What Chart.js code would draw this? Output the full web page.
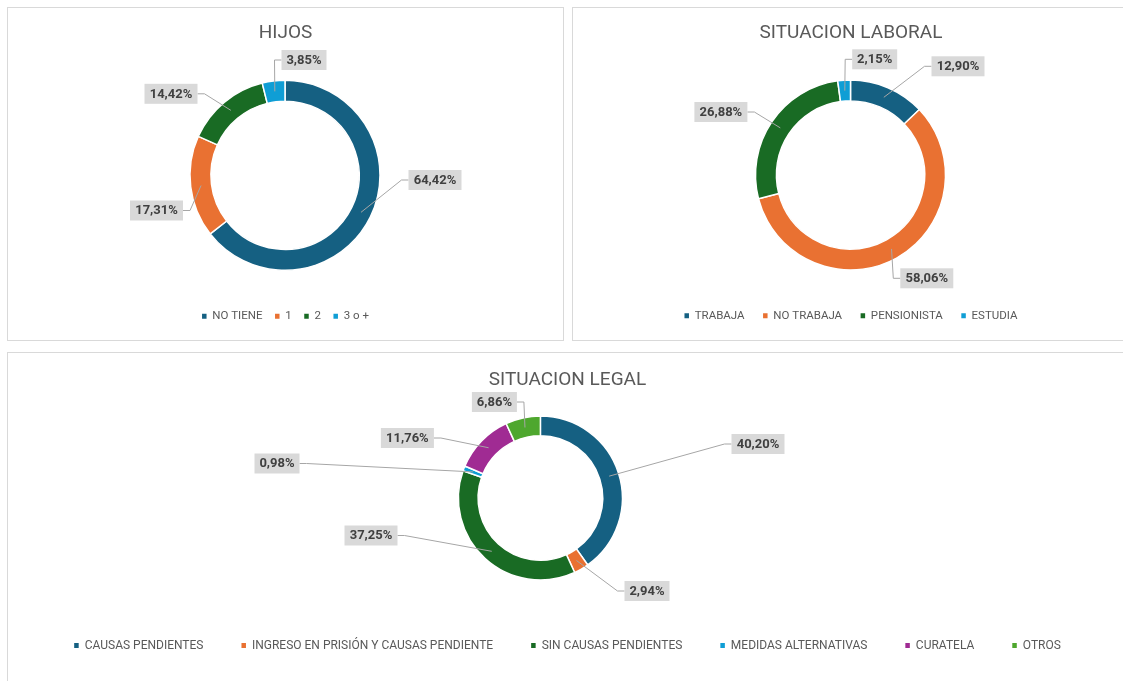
<!DOCTYPE html>
<html><head><meta charset="utf-8">
<script src="https://cdn.jsdelivr.net/npm/chart.js@4"></script>
<style>
html,body{margin:0;padding:0;background:#fff;overflow:hidden;width:1123px;height:681px;}
.panel{position:absolute;border:1px solid #d9d9d9;background:#fff;}
.panel canvas{display:block;}
</style></head><body>
<div class="panel" style="left:7px;top:7px;width:555px;height:332px"><canvas id="c1" width="555" height="332"></canvas></div>
<div class="panel" style="left:572px;top:7px;width:556px;height:332px"><canvas id="c2" width="556" height="332"></canvas></div>
<div class="panel" style="left:7px;top:352px;width:1119px;height:330px"><canvas id="c3" width="1119" height="330"></canvas></div>
<script>
// ---- data ----
const hijosLabels = ['NO TIENE', '1', '2', '3 o +'];
const hijosValues = [64.42, 17.31, 14.42, 3.85];

const laboralLabels = ['TRABAJA', 'NO TRABAJA', 'PENSIONISTA', 'ESTUDIA'];
const laboralValues = [12.90, 58.06, 26.88, 2.15];

const legalLabels = ['CAUSAS PENDIENTES', 'INGRESO EN PRISIÓN Y CAUSAS PENDIENTE', 'SIN CAUSAS PENDIENTES', 'MEDIDAS ALTERNATIVAS', 'CURATELA', 'OTROS'];
const legalValues = [40.20, 2.94, 37.25, 0.98, 11.76, 6.86];

// ---- styles / layout ----
const palette = ['#156082', '#E97132', '#196B24', '#0F9ED5', '#A02B93', '#4EA72E'];
// data-label box offsets from the ring centre (layout only)
const hijosLabelPos = [[150, 4.7], [-128.5, 35.2], [-114, -81.5], [19, -115.3]];
const laboralLabelPos = [[107.5, -108.7], [76.3, 103.3], [-129.6, -63], [24.2, -115.7]];
const legalLabelPos = [[217.6, -54], [106.6, 93], [-169.4, 37.5], [-263.4, -34.5], [-133, -60], [-46, -96]];

const FONT = 'Roboto';

const centerPlugin = {
  id: 'plotCenter',
  afterLayout(chart, args, opts) {
    if (!opts || opts.x == null) return;
    const R = opts.r, a = chart.chartArea;
    a.left = opts.x - R; a.right = opts.x + R;
    a.top = opts.y - R; a.bottom = opts.y + R;
    a.width = 2 * R; a.height = 2 * R;
  }
};

const labelPlugin = {
  id: 'calloutLabels',
  afterDatasetsDraw(chart, args, opts) {
    const ctx = chart.ctx;
    const meta = chart.getDatasetMeta(0);
    const values = chart.data.datasets[0].data;
    ctx.save();
    ctx.font = 'bold ' + opts.fontSize + 'px ' + FONT;
    meta.data.forEach((arc, i) => {
      const p = arc.getProps(['x', 'y', 'startAngle', 'endAngle', 'innerRadius', 'outerRadius'], true);
      const mid = (p.startAngle + p.endAngle) / 2;
      const rm = (p.innerRadius + p.outerRadius) / 2;
      const ax = p.x + Math.cos(mid) * rm, ay = p.y + Math.sin(mid) * rm;
      const text = values[i].toFixed(2).replace('.', ',') + '%';
      const tw = ctx.measureText(text).width;
      const w = Math.round(tw + 10), h = 20;
      const bx = p.x + opts.positions[i][0], by = p.y + opts.positions[i][1];
      const left = bx - w / 2, right = bx + w / 2;
      ctx.strokeStyle = '#a6a6a6';
      ctx.lineWidth = 1;
      ctx.beginPath();
      if (ax < left) {
        ctx.moveTo(ax, ay); ctx.lineTo(left - 7, by); ctx.lineTo(left, by);
      } else if (ax > right) {
        ctx.moveTo(ax, ay); ctx.lineTo(right + 7, by); ctx.lineTo(right, by);
      } else {
        const ey = ay < by ? by - h / 2 : by + h / 2;
        ctx.moveTo(ax, ay); ctx.lineTo(bx, ey);
      }
      ctx.stroke();
      ctx.fillStyle = '#d9d9d9';
      ctx.fillRect(left, by - h / 2, w, h);
      ctx.fillStyle = '#404040';
      ctx.textAlign = 'center';
      ctx.textBaseline = 'middle';
      ctx.fillText(text, bx, by + 0.5);
    });
    ctx.restore();
  }
};

function legendLabels(chart) {
  return Chart.overrides.doughnut.plugins.legend.labels.generateLabels(chart)
    .map(l => Object.assign({}, l, { lineWidth: 0, strokeStyle: 'rgba(0,0,0,0)' }));
}

function makeChart(id, title, labels, values, opt) {
  return new Chart(document.getElementById(id), {
    type: 'doughnut',
    data: {
      labels: labels,
      datasets: [{
        data: values,
        backgroundColor: palette.slice(0, values.length),
        borderColor: '#ffffff',
        borderWidth: 1.5,
        clip: false
      }]
    },
    options: {
      responsive: false,
      animation: false,
      events: [],
      rotation: 0,
      cutout: opt.cutout,
      radius: opt.r,
      layout: { padding: { top: 0, bottom: opt.padBottom, left: 0, right: 0 } },
      plugins: {
        title: {
          display: true,
          text: title,
          color: '#595959',
          font: { family: FONT, size: 19, weight: 'normal' },
          padding: { top: opt.titleTop, bottom: 4 }
        },
        legend: {
          position: 'bottom',
          labels: {
            boxWidth: 4.5,
            boxHeight: 5,
            padding: opt.legendPad,
            color: '#595959',
            font: { family: FONT, size: opt.legendSize },
            generateLabels: legendLabels
          }
        },
        tooltip: { enabled: false },
        plotCenter: { x: opt.cx, y: opt.cy, r: opt.r },
        calloutLabels: { positions: opt.labelPos, fontSize: 13 }
      }
    },
    plugins: [centerPlugin, labelPlugin]
  });
}

makeChart('c1', 'HIJOS', hijosLabels, hijosValues,
  { cx: 277, cy: 167.3, r: 95, cutout: '78%', padBottom: 8, titleTop: 13.5, legendPad: 12.5, legendSize: 11.5, labelPos: hijosLabelPos });
makeChart('c2', 'SITUACION LABORAL', laboralLabels, laboralValues,
  { cx: 277.5, cy: 167, r: 95, cutout: '78%', padBottom: 8.5, titleTop: 13.5, legendPad: 18.5, legendSize: 11.5, labelPos: laboralLabelPos });
makeChart('c3', 'SITUACION LEGAL', legalLabels, legalValues,
  { cx: 532.4, cy: 145, r: 82, cutout: '76%', padBottom: 21.5, titleTop: 15.6, legendPad: 38, legendSize: 12, labelPos: legalLabelPos });
</script>
</body></html>
